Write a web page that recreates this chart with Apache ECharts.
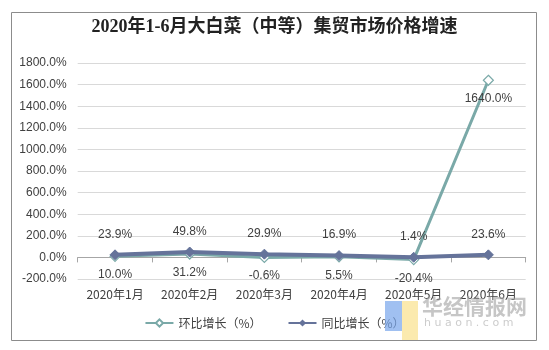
<!DOCTYPE html>
<html>
<head>
<meta charset="utf-8">
<script src="https://cdn.jsdelivr.net/npm/echarts@6/dist/echarts.min.js"></script>
<style>
  html, body { margin: 0; padding: 0; background: #fff; }
  #chart { width: 549px; height: 350px; }
</style>
</head>
<body>
<div id="chart"></div>
<script>
// Categories and series values
var months = ['2020年1月', '2020年2月', '2020年3月', '2020年4月', '2020年5月', '2020年6月'];
var momGrowth = [10.0, 31.2, -0.6, 5.5, -20.4, 1640.0];   // 环比增长（%）
var yoyGrowth = [23.9, 49.8, 29.9, 16.9, 1.4, 23.6];      // 同比增长（%）
var yTicks = { min: -200, max: 1800, interval: 200 };

var chart = echarts.init(document.getElementById('chart'));
var fmt = function (v) { return v.toFixed(1) + '%'; };

chart.setOption({
  animation: false,
  backgroundColor: '#ffffff',
  title: {
    text: '2020年1-6月大白菜（中等）集贸市场价格增速',
    left: 'center',
    top: 13,
    textStyle: {
      fontFamily: '"Liberation Serif", "Noto Sans CJK SC", serif',
      fontWeight: 'bold',
      fontSize: 18,
      color: '#222'
    }
  },
  grid: { left: 77.7, right: 23.3, top: 63, bottom: 71 },
  legend: {
    top: 312,
    left: 'center',
    itemWidth: 28,
    itemHeight: 9,
    itemGap: 26,
    textStyle: { fontSize: 12, color: '#404040', fontFamily: '"Noto Sans CJK SC", sans-serif' },
    data: ['环比增长（%）', '同比增长（%）']
  },
  xAxis: {
    type: 'category',
    data: months,
    axisLine: { onZero: true, lineStyle: { color: '#a6a6a6', width: 1 } },
    axisTick: { show: true, length: 5, lineStyle: { color: '#a6a6a6' } },
    axisLabel: { margin: 9, fontSize: 12, color: '#404040', fontFamily: '"Noto Sans CJK SC", sans-serif' }
  },
  yAxis: {
    type: 'value',
    min: yTicks.min,
    max: yTicks.max,
    interval: yTicks.interval,
    axisLine: { show: false },
    axisTick: { show: false },
    axisLabel: { formatter: fmt, fontSize: 12, color: '#404040', margin: 11, fontFamily: 'Arial, "Liberation Sans", sans-serif' },
    splitLine: { lineStyle: { color: '#d9d9d9', width: 1 } }
  },
  series: [
    {
      name: '环比增长（%）',
      type: 'line',
      data: momGrowth,
      symbol: 'diamond',
      symbolSize: 10,
      z: 2,
      lineStyle: { color: '#7aa9a8', width: 3 },
      itemStyle: { color: '#ffffff', borderColor: '#7aa9a8', borderWidth: 1.2 },
      label: {
        show: true,
        position: 'bottom',
        distance: 7,
        formatter: function (p) { return fmt(p.value); },
        fontSize: 12,
        color: '#404040',
        fontFamily: 'Arial, "Liberation Sans", sans-serif'
      }
    },
    {
      name: '同比增长（%）',
      type: 'line',
      data: yoyGrowth,
      symbol: 'diamond',
      symbolSize: 10,
      z: 3,
      lineStyle: { color: '#65739a', width: 4 },
      itemStyle: { color: '#65739a', borderColor: '#65739a' },
      label: {
        show: true,
        position: 'top',
        distance: 9,
        formatter: function (p) { return fmt(p.value); },
        fontSize: 12,
        color: '#404040',
        fontFamily: 'Arial, "Liberation Sans", sans-serif'
      }
    }
  ],
  graphic: [
    {
      type: 'rect',
      shape: { x: 11.5, y: 12.5, width: 525, height: 328 },
      style: { fill: 'none', stroke: '#8c8c8c', lineWidth: 1 },
      silent: true, z: -1
    },
    {
      type: 'rect',
      shape: { x: 385, y: 301, width: 17, height: 30 },
      style: { fill: 'rgba(120,165,235,0.7)' },
      silent: true, z: 10
    },
    {
      type: 'rect',
      shape: { x: 402, y: 301, width: 16, height: 39 },
      style: { fill: 'rgba(250,225,140,0.7)' },
      silent: true, z: 10
    },
    {
      type: 'text',
      left: 422, top: 296,
      style: { text: '华经情报网', fill: 'rgba(160,160,160,0.6)', font: 'bold 21px "Noto Sans CJK SC", sans-serif' },
      silent: true, z: 10
    },
    {
      type: 'text',
      left: 424, top: 318,
      style: { text: 'h u a o n . c o m', fill: 'rgba(170,170,170,0.6)', font: '11px "DejaVu Sans", sans-serif' },
      silent: true, z: 10
    }
  ]
});
</script>
</body>
</html>
